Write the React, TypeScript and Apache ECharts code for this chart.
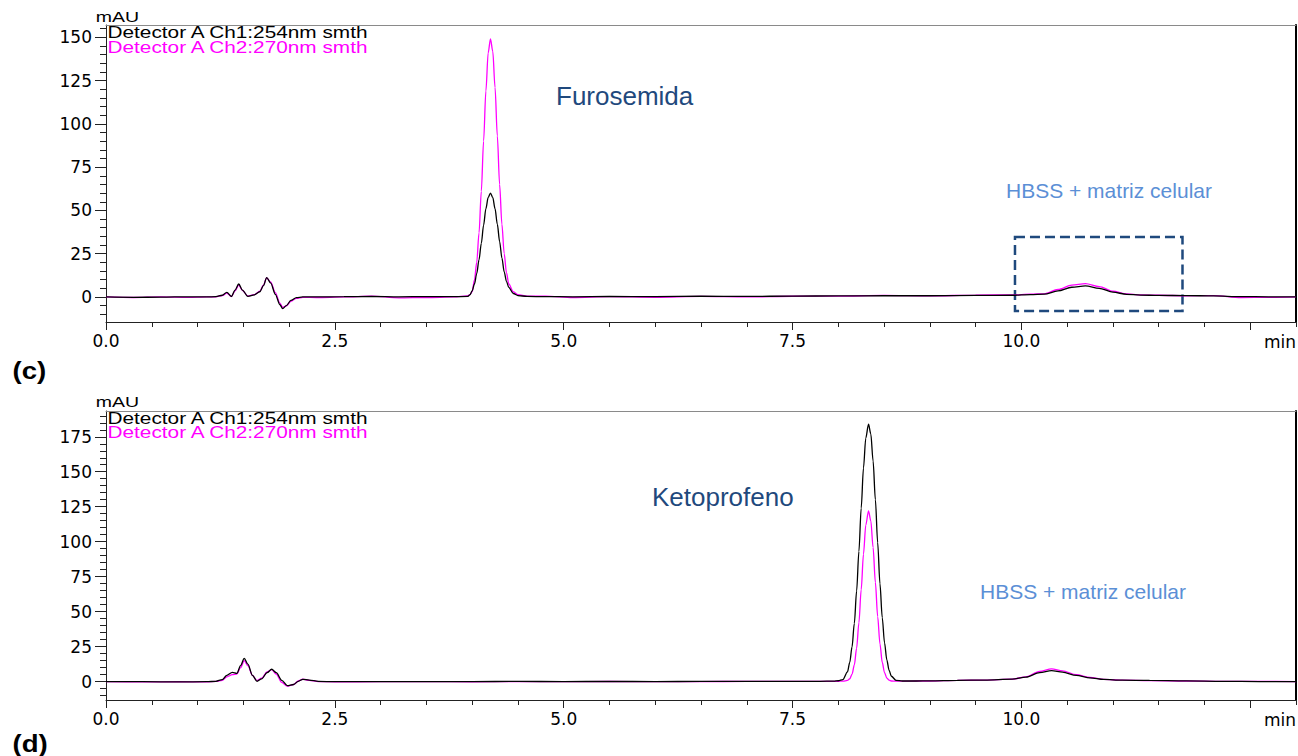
import { useEffect, useRef } from "react";
import * as echarts from "echarts";

// ---- (c) Furosemida chromatogram ----
const timeC = [
  0, 0.3, 0.6, 0.9, 1.1,
  1.2, 1.27, 1.32, 1.37, 1.41, 1.45, 1.49, 1.55, 1.62, 1.68, 1.72, 1.755, 1.8, 1.85, 1.9, 1.93, 1.97, 2.02, 2.08, 2.15,
  2.3, 2.6, 2.9, 3.2, 3.5, 3.8, 3.95, 3.975,
  4.0, 4.025, 4.05, 4.075, 4.1, 4.125, 4.15, 4.175, 4.2, 4.225, 4.25, 4.275, 4.3, 4.325, 4.35, 4.375, 4.4,
  4.45, 4.5, 4.6,
  4.8, 5.1, 5.5, 6.0, 6.5, 7.0, 7.5, 8.0, 8.5, 9.0, 9.5, 9.9, 10.1,
  10.25, 10.4, 10.55, 10.7, 10.85, 11.0, 11.15, 11.3, 11.5, 11.8, 12.1, 12.4, 12.7, 13.0,
];
const ch1C = [
  0, -0.2, -0.1, 0.1, 0,
  0.2, 1.0, 2.6, 0.3, 4.0, 7.5, 4.0, 0.3, 1.2, 3.0, 6.5, 11.2, 8.0, 1.5, -4.5, -6.7, -5.0, -2.0, -0.4, 0,
  0, 0.2, 0.3, 0.1, 0.2, 0.2, 0.3, 1.2,
  3.5, 7.5, 13.5, 21.5, 31, 41.5, 51, 57.5, 60, 57.5, 51, 42, 32, 22.5, 14.5, 9, 5.5,
  2, 0.8, 0.3,
  0.2, 0.1, 0.3, 0.2, 0.4, 0.3, 0.5, 0.6, 0.7, 0.7, 0.9, 1.0, 1.4,
  1.6, 3.5, 5.6, 6.4, 5.0, 2.8, 1.5, 1.1, 0.9, 0.8, 0.6, 0.2, 0.1, 0.1,
];
const ch2C = [
  0, -0.3, 0.1, -0.2, 0.1,
  0.1, 0.8, 2.2, 0.2, 3.5, 6.8, 3.8, 0.5, 1.4, 3.3, 6.8, 11.0, 8.5, 2.5, -3.5, -6.0, -5.2, -2.5, -0.8, -0.2,
  -0.3, 0, 0.5, -0.5, -0.3, 0, 0.6, 1.3,
  3.0, 9.8, 20, 37, 61, 90, 119, 141, 149, 142, 121, 93, 65, 42, 25, 14, 7.5,
  3, 1.3, 0.4,
  0.5, -0.3, 0.2, -0.2, 0.3, 0, 0.4, 0.5, 0.9, 0.6, 1.1, 1.2, 1.6,
  1.8, 4.3, 6.8, 7.7, 6.0, 3.3, 1.8, 1.2, 1.0, 0.7, 0.8, -0.3, -0.2, 0.1,
];

// ---- (d) Ketoprofeno chromatogram ----
const timeD = [
  0, 0.4, 0.8, 1.1,
  1.2, 1.27, 1.32, 1.38, 1.43, 1.47, 1.51, 1.55, 1.6, 1.65, 1.7, 1.76, 1.81, 1.86, 1.92, 1.98, 2.05, 2.1, 2.15, 2.22, 2.32,
  2.5, 3.0, 3.5, 4.0, 4.5, 5.0, 5.5, 6.0, 6.5, 7.0, 7.5, 7.8, 7.95,
  8.0, 8.05, 8.1, 8.125, 8.15, 8.175, 8.2, 8.225, 8.25, 8.275, 8.3, 8.33, 8.355, 8.38, 8.405, 8.43, 8.455, 8.48, 8.505, 8.53, 8.555, 8.58, 8.63, 8.7,
  8.85, 9.0, 9.3, 9.6, 9.9, 10.05, 10.2, 10.33, 10.45, 10.6, 10.75, 10.9, 11.1, 11.4, 11.8, 12.2, 12.6, 13.0,
];
const ch1D = [
  0, 0, -0.1, 0,
  0.3, 1.5, 4.5, 6.7, 6.0, 11.5, 16.7, 12.5, 4.5, 0.3, 2.0, 6.5, 8.9, 6.5, 1.0, -2.8, -2.0, 0.3, 1.7, 1.2, 0.2,
  0, 0.1, 0, 0.1, 0.2, 0.1, 0.2, 0.1, 0.2, 0.3, 0.3, 0.3, 0.4,
  0.7, 1.5, 7, 13.8, 24.9, 41.7, 64.8, 93.1, 124, 152.7, 174, 184, 177, 157.7, 130, 99.4, 70, 45.8, 27.8, 15.6, 8.1, 3.9, 1.0, 0.5,
  0.5, 0.6, 1.0, 1.2, 1.8, 3.3, 6.5, 7.9, 6.8, 4.5, 2.8, 1.6, 1.1, 0.9, 0.6, 0.3, 0.1, 0.1,
];
const ch2D = [
  0, -0.1, 0, -0.1,
  0.2, 1.0, 3.5, 5.0, 5.5, 10, 15, 11.5, 4.5, 0.8, 2.5, 7.0, 8.7, 5.5, -0.5, -3.2, -2.0, 0.5, 1.8, 1.0, 0.1,
  -0.1, 0, 0.1, -0.1, 0.1, 0, 0.2, 0, 0.1, 0.2, 0.2, 0.3, 0.3,
  0.3, 0.4, 0.9, 2.1, 5.4, 12, 23.9, 42.1, 65.8, 91.1, 111.9, 122, 114.9, 95.9, 70.9, 46.5, 27, 13.9, 6.4, 2.6, 1.1, 0.5, 0.4, 0.4,
  0.5, 0.5, 1.0, 1.1, 1.8, 3.5, 7.3, 9.1, 7.8, 5.0, 3.0, 1.7, 1.1, 0.8, 0.5, 0.2, 0.2, 0.1,
];

// ---- axes ----
const xMajorTicks = [0, 2.5, 5, 7.5, 10, 12.5];
const xTickLabels = [0, 2.5, 5, 7.5, 10];
const xMinorTicks = [0.5, 1, 1.5, 2, 3, 3.5, 4, 4.5, 5.5, 6, 6.5, 7, 8, 8.5, 9, 9.5, 10.5, 11, 11.5, 12, 13];
const yMajorC = [0, 25, 50, 75, 100, 125, 150];
const yMinorC = [-10, -5, 5, 10, 15, 20, 30, 35, 40, 45, 55, 60, 65, 70, 80, 85, 90, 95, 105, 110, 115, 120, 130, 135, 140, 145, 155];
const yMajorD = [0, 25, 50, 75, 100, 125, 150, 175];
const yMinorD = [-10, -5, 5, 10, 15, 20, 30, 35, 40, 45, 55, 60, 65, 70, 80, 85, 90, 95, 105, 110, 115, 120, 130, 135, 140, 145, 155, 160, 165, 170, 180, 185, 190];

const legendCh1 = "Detector A Ch1:254nm smth";
const legendCh2 = "Detector A Ch2:270nm smth";

const X_MIN = 0;
const X_MAX = 13;
const AXIS_FONT = "DejaVu Sans";
const AXIS_COLOR = "#222";

function xAxesFor(g: number) {
  return [
    {
      gridIndex: g, type: "value", min: X_MIN, max: X_MAX, position: "bottom",
      axisLine: { show: true, onZero: false, lineStyle: { color: AXIS_COLOR, width: 1 } },
      axisTick: { show: true, customValues: xMajorTicks, length: 8, lineStyle: { color: AXIS_COLOR } },
      axisLabel: {
        customValues: xTickLabels, formatter: (v: number) => v.toFixed(1), margin: 10,
        color: "#000", fontSize: 17, fontFamily: AXIS_FONT,
      },
      splitLine: { show: false },
      name: "min", nameLocation: "end", nameGap: 0,
      nameTextStyle: { align: "right", verticalAlign: "top", padding: [11, 0, 0, 0], color: "#000", fontSize: 17, fontFamily: AXIS_FONT },
    },
    {
      gridIndex: g, type: "value", min: X_MIN, max: X_MAX, position: "bottom",
      axisLine: { show: false, onZero: false },
      axisTick: { show: true, customValues: xMinorTicks, length: 5, lineStyle: { color: AXIS_COLOR } },
      axisLabel: { show: false }, splitLine: { show: false },
    },
    {
      gridIndex: g, type: "value", min: X_MIN, max: X_MAX, position: "top",
      axisLine: { show: true, onZero: false, lineStyle: { color: "#8a8a8a", width: 1 } },
      axisTick: { show: false }, axisLabel: { show: false }, splitLine: { show: false },
    },
  ];
}

function yAxesFor(g: number, min: number, max: number, major: number[], minor: number[]) {
  return [
    {
      gridIndex: g, type: "value", min, max, position: "left",
      axisLine: { show: true, onZero: false, lineStyle: { color: AXIS_COLOR, width: 1 } },
      axisTick: { show: true, customValues: major, length: 11, lineStyle: { color: AXIS_COLOR } },
      axisLabel: { customValues: major, margin: 14, color: "#000", fontSize: 17, fontFamily: AXIS_FONT },
      splitLine: { show: false },
    },
    {
      gridIndex: g, type: "value", min, max, position: "left",
      axisLine: { show: false, onZero: false },
      axisTick: { show: true, customValues: minor, length: 6, lineStyle: { color: AXIS_COLOR } },
      axisLabel: { show: false }, splitLine: { show: false },
    },
    {
      gridIndex: g, type: "value", min, max, position: "right",
      axisLine: { show: true, onZero: false, lineStyle: { color: "#000", width: 2 } },
      axisTick: { show: false }, axisLabel: { show: false }, splitLine: { show: false },
    },
  ];
}

const pairs = (t: number[], v: number[]) => t.map((x, i) => [x, v[i]]);

const lineSeries = (name: string, color: string, xi: number, yi: number, data: number[][], extra: any = {}) => ({
  name, type: "line", xAxisIndex: xi, yAxisIndex: yi, data,
  showSymbol: false, symbol: "none", smooth: 0.3, smoothMonotone: "x",
  lineStyle: { color, width: 1.3 }, itemStyle: { color }, z: 3, silent: true,
  ...extra,
});

const DARK_BLUE = "#1F497D";
const LIGHT_BLUE = "#5B8FD6";

function txt(text: string, x: number, y: number, opts: any = {}) {
  return {
    type: "text", x, y, scaleX: opts.scaleX ?? 1, silent: true, z: 10,
    style: {
      text, fill: opts.fill ?? "#000",
      fontSize: opts.fontSize ?? 16, fontFamily: opts.fontFamily ?? "Liberation Sans",
      fontWeight: opts.fontWeight ?? "normal",
      align: opts.align ?? "left", verticalAlign: "middle",
      textAlign: opts.align ?? "left", textVerticalAlign: "middle",
    },
  };
}

export default function App() {
  const ref = useRef<HTMLDivElement>(null);
  useEffect(() => {
    if (!ref.current) return;
    const chart = echarts.init(ref.current, null, { renderer: "svg" });
    const option: any = {
      animation: false,
      backgroundColor: "#fff",
      grid: [
        { left: 106, top: 25, width: 1190, height: 297, containLabel: false },
        { left: 106, top: 411, width: 1190, height: 289, containLabel: false },
      ],
      xAxis: [...xAxesFor(0), ...xAxesFor(1)],
      yAxis: [
        ...yAxesFor(0, -14.46, 157.1, yMajorC, yMinorC),
        ...yAxesFor(1, -13.07, 193.4, yMajorD, yMinorD),
      ],
      series: [
        lineSeries(legendCh2, "#FF00FF", 0, 0, pairs(timeC, ch2C)),
        lineSeries(legendCh1, "#000000", 0, 0, pairs(timeC, ch1C), {
          markArea: {
            silent: true,
            label: { show: false },
            itemStyle: { color: "rgba(0,0,0,0)", borderColor: DARK_BLUE, borderWidth: 2.5, borderType: [10, 5] },
            data: [[{ coord: [9.93, 34.7] }, { coord: [11.76, -8.1] }]],
          },
        }),
        lineSeries(legendCh2, "#FF00FF", 3, 3, pairs(timeD, ch2D)),
        lineSeries(legendCh1, "#000000", 3, 3, pairs(timeD, ch1D)),
      ],
      graphic: [
        txt("mAU", 117.5, 16.5, { fontSize: 15, scaleX: 1.3, align: "center" }),
        txt(legendCh1, 107.5, 32.5, { scaleX: 1.3 }),
        txt(legendCh2, 107.5, 47.5, { scaleX: 1.3, fill: "#FF00FF" }),
        txt("Furosemida", 556, 96, { fontSize: 26, fill: DARK_BLUE }),
        txt("HBSS + matriz celular", 1006, 190, { fontSize: 21, fill: LIGHT_BLUE }),
        txt("(c)", 12.5, 370.5, { fontSize: 23, fontWeight: "bold", scaleX: 1.2 }),
        txt("mAU", 117.5, 401.5, { fontSize: 15, scaleX: 1.3, align: "center" }),
        txt(legendCh1, 107.5, 418, { scaleX: 1.3 }),
        txt(legendCh2, 107.5, 432, { scaleX: 1.3, fill: "#FF00FF" }),
        txt("Ketoprofeno", 652, 497, { fontSize: 26, fill: DARK_BLUE }),
        txt("HBSS + matriz celular", 980, 591, { fontSize: 21, fill: LIGHT_BLUE }),
        txt("(d)", 12.5, 743.5, { fontSize: 23, fontWeight: "bold", scaleX: 1.2 }),
      ],
    };
    chart.setOption(option);
    return () => chart.dispose();
  }, []);
  return (
    <div
      ref={ref}
      style={{ position: "fixed", left: 0, top: 0, width: 1298, height: 756, background: "#fff" }}
    />
  );
}
